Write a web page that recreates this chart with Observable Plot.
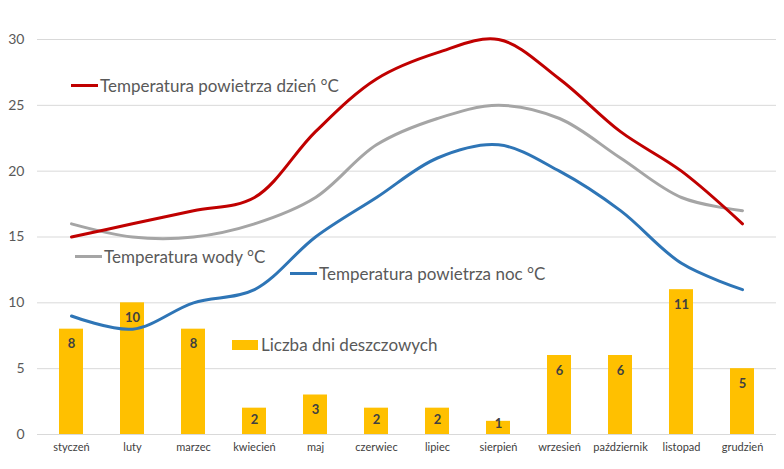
<!DOCTYPE html>
<html><head><meta charset="utf-8">
<script src="https://cdn.jsdelivr.net/npm/d3@7"></script>
<script src="https://cdn.jsdelivr.net/npm/@observablehq/plot@0.6"></script>
<style>
body{margin:0;background:#fff;font-family:Lato,"Open Sans",sans-serif;}
#wrap{position:relative;width:784px;height:469px;}
.leg{position:absolute;display:flex;align-items:center;font-size:17px;color:#595959;white-space:nowrap;}
.leg .ln{width:27px;height:3px;margin-right:2px;}
.leg .sw{width:26px;height:10px;margin-right:3px;}
</style></head>
<body><div id="wrap"></div>
<script>
const months = ["styczeń","luty","marzec","kwiecień","maj","czerwiec","lipiec","sierpień","wrzesień","październik","listopad","grudzień"];
const tempDay = [15,16,17,18,23,27,29,30,27,23,20,16];
const tempWater = [16,15,15,16,18,22,24,25,24,21,18,17];
const tempNight = [9,8,10,11,15,18,21,22,20,17,13,11];
const rainDays = [8,10,8,2,3,2,2,1,6,6,11,5];
const yTicks = [0,5,10,15,20,25,30];

const rows = months.map((m,i)=>({m, day:tempDay[i], water:tempWater[i], night:tempNight[i], rain:rainDays[i]}));
const labelStyle = {x:"m", y:"rain", text:"rain", fontSize:13, fontWeight:"bold", fill:"#404040"};

const chart = Plot.plot({
  width:784, height:469,
  marginLeft:37, marginRight:8, marginTop:39, marginBottom:35,
  style:{fontFamily:"Lato, sans-serif", background:"#fff"},
  x:{domain:months, paddingInner:0.6, paddingOuter:0.3, label:null},
  y:{domain:[0,30], ticks:yTicks, label:null},
  marks:[
    Plot.gridY(yTicks,{stroke:"#D9D9D9", strokeOpacity:1, strokeWidth:1}),
    Plot.axisY({ticks:yTicks, tickSize:0, tickPadding:13, fontSize:14, fill:"#595959", label:null}),
    Plot.axisX({tickSize:0, tickPadding:9, fontSize:11, fill:"#404040", label:null}),
    Plot.barY(rows,{x:"m", y:"rain", fill:"#FFC000"}),
    Plot.text(rows.filter(d=>d.rain>=3),{...labelStyle, dy:15}),
    Plot.text(rows.filter(d=>d.rain===2),{...labelStyle, dy:12}),
    Plot.text(rows.filter(d=>d.rain<2),{...labelStyle, dy:2}),
    Plot.line(rows,{x:"m", y:"water", stroke:"#A5A5A5", strokeWidth:3, curve:"catmull-rom"}),
    Plot.line(rows,{x:"m", y:"night", stroke:"#2E75B6", strokeWidth:3, curve:"catmull-rom"}),
    Plot.line(rows,{x:"m", y:"day", stroke:"#C00000", strokeWidth:3, curve:"catmull-rom"})
  ]
});
const wrap = document.getElementById("wrap");
wrap.appendChild(chart);

const legends = [
  {label:"Temperatura powietrza dzień °C", color:"#C00000", type:"ln", left:71, top:75},
  {label:"Temperatura wody °C", color:"#A5A5A5", type:"ln", left:75, top:246},
  {label:"Temperatura powietrza noc °C", color:"#2E75B6", type:"ln", left:290, top:263},
  {label:"Liczba dni deszczowych", color:"#FFC000", type:"sw", left:232, top:334}
];
legends.forEach(l=>{
  const d=document.createElement("div");
  d.className="leg"; d.style.left=l.left+"px"; d.style.top=l.top+"px";
  const s=document.createElement("span"); s.className=l.type; s.style.background=l.color;
  d.appendChild(s); d.appendChild(document.createTextNode(l.label));
  wrap.appendChild(d);
});
</script></body></html>
